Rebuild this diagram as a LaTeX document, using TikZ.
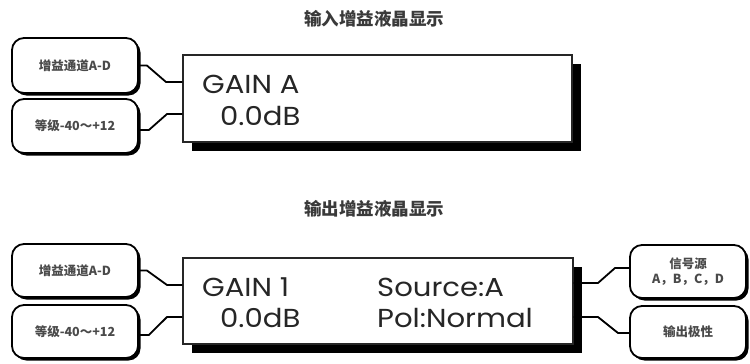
\documentclass[tikz,border=0pt]{standalone}
\usepackage{fontspec}
\setmainfont{Poppins}
\newfontfamily\lcdfont[FakeStretch=1.12]{Poppins}
\newfontfamily\cjk{Noto Sans CJK SC}
\usetikzlibrary{shadows}
\definecolor{titlegray}{HTML}{3A3A3A}
\definecolor{labgray}{HTML}{4A4A4A}
\begin{document}
\begin{tikzpicture}[x=1pt,y=-1pt,
  lcd/.style={draw=black!85,line width=1.3pt,fill=white,inner sep=0pt,
    drop shadow={shadow xshift=9pt,shadow yshift=-9pt,opacity=1,fill=black}},
  tag/.style={draw=black,line width=1.8pt,fill=white,rounded corners=12pt,inner sep=0pt,
    drop shadow={shadow xshift=2.5pt,shadow yshift=-2.5pt,opacity=1,fill=black},
    font=\cjk\bfseries\fontsize{12.5}{15}\selectfont,text=labgray,align=center},
  conn/.style={line width=1.8pt,line join=round},
  title/.style={font=\cjk\bfseries\fontsize{17.5}{20}\selectfont,text=titlegray},
  lcdtext/.style={anchor=base west,inner sep=0pt,font=\lcdfont\fontsize{26}{30}\selectfont,text=black!85}]
\useasboundingbox[fill=white] (0,0) rectangle (750,364);

\node[title] (t1) at (374,19) {输入增益液晶显示};
\node[title] (t2) at (374,209) {输出增益液晶显示};

\node[lcd,minimum width=389pt,minimum height=87pt] (lcd1) at (377.5,98.5) {};
\node[lcd,minimum width=390pt,minimum height=86pt] (lcd2) at (378,301) {};

\node[lcdtext] (g1) at (202,93) {GAIN A};
\node[lcdtext] (d1) at (220,125) {0.0dB};
\node[lcdtext] (g2) at (202,296) {GAIN 1};
\node[lcdtext] (d2) at (220,327) {0.0dB};
\node[lcdtext] (s2) at (377,296) {Source:A};
\node[lcdtext] (p2) at (377,327) {Pol:Normal};

\node[tag,minimum width=126pt,minimum height=55pt] (a1) at (75,65.5) {增益通道A-D};
\node[tag,minimum width=126pt,minimum height=54pt] (a2) at (75,126) {等级-40～+12};
\node[tag,minimum width=126pt,minimum height=53pt] (b1) at (75,270.5) {增益通道A-D};
\node[tag,minimum width=126pt,minimum height=53pt] (b2) at (75,331.5) {等级-40～+12};
\node[tag,minimum width=116pt,minimum height=53pt] (r1) at (688,271.5) {信号源\\A，B，C，D};
\node[tag,minimum width=116pt,minimum height=52pt] (r2) at (688,332) {输出极性};

\draw[conn] (a1.east) -- ++(8,0) -- (166,82) -- (lcd1.west|-0,82);
\draw[conn] ([yshift=-4pt]a2.east) -- ++(10,0) -- (167,114) -- (lcd1.west|-0,114);
\draw[conn] (b1.east) -- ++(8,0) -- (167,285) -- (lcd2.west|-0,285);
\draw[conn] ([yshift=-3.5pt]b2.east) -- ++(10,0) -- (167,317) -- (lcd2.west|-0,317);
\draw[conn] (lcd2.east|-0,283) -- (598,283) -- (615,268) -- (r1.west|-0,268);
\draw[conn] (lcd2.east|-0,317) -- (598,317) -- (618,333) -- (r2.west|-0,333);
\end{tikzpicture}
\end{document}
